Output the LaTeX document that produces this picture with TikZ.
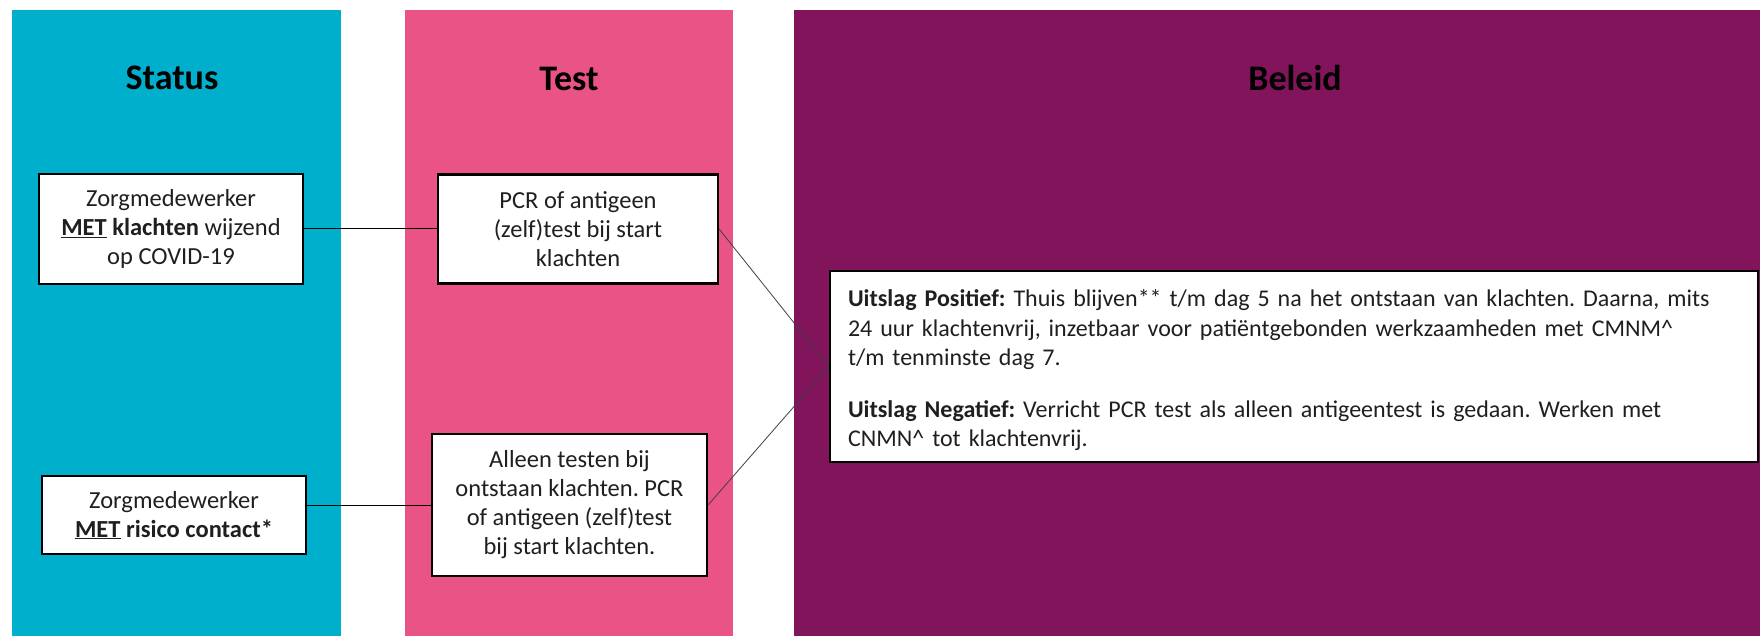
\documentclass[tikz,border=0pt]{standalone}
\usepackage{fontspec}
\setmainfont{Carlito}
\frenchspacing
\definecolor{statuscol}{RGB}{0,175,203}
\definecolor{testcol}{RGB}{233,83,133}
\definecolor{beleidcol}{RGB}{129,20,90}
\tikzset{
  coltitle/.style={font=\fontsize{36}{40}\selectfont\bfseries, text=black, inner sep=0pt},
  infobox/.style={draw=black, line width=2.2pt, fill=white, align=center, inner sep=0pt,
    font=\fontsize{24.5}{29}\selectfont, text=black!88},
  plaintext/.style={align=left, inner sep=0pt, text width=892pt,
    font=\fontsize{24}{29.5}\selectfont, text=black!88},
  link/.style={draw=black, line width=1pt},
  thinlink/.style={draw=black!75, line width=0.8pt}
}
\begin{document}
\begin{tikzpicture}[x=1pt,y=-1pt]
  \useasboundingbox (0,0) rectangle (1760,636);
  % column backgrounds
  \fill[statuscol] (12,10) rectangle (341,636);
  \fill[testcol] (405,10) rectangle (733,636);
  \fill[beleidcol] (794,10) rectangle (1760,636);
  % column headings
  \node[coltitle] (tStatus) at (172,78) {Status};
  \node[coltitle] (tTest) at (569,79) {Test};
  \node[coltitle] (tBeleid) at (1295,78) {Beleid};
  % status boxes
  \node[infobox, minimum width=264pt, minimum height=110pt] (klacht) at (171,229)
    {Zorgmedewerker\\\underline{\textbf{MET}} \textbf{klachten} wijzend\\op COVID-19};
  \node[infobox, minimum width=264pt, minimum height=78pt] (contact) at (174,515)
    {Zorgmedewerker\\\textbf{\underline{MET} risico contact*}};
  % test boxes
  \node[infobox, minimum width=280pt, minimum height=109pt] (pcr) at (578,229)
    {PCR of antigeen\\(zelf)test bij start\\klachten};
  \node[infobox, minimum width=275pt, minimum height=142pt] (alleen) at (569.5,505)
    {Alleen testen bij\\ontstaan klachten. PCR\\of antigeen (zelf)test\\bij start klachten.};
  % policy box and its text
  \node[infobox, minimum width=928pt, minimum height=191pt] (beleid) at (1294,366.5) {};
  \node[plaintext, yshift=-4pt] (beleidtext) at (beleid.center)
    {\textbf{Uitslag Positief:} Thuis blijven** t/m dag 5 na het ontstaan van klachten. Daarna, mits\\
     24 uur klachtenvrij, inzetbaar voor patiëntgebonden werkzaamheden met CMNM\^{}\\
     t/m tenminste dag 7.\\[22pt]
     \textbf{Uitslag Negatief:} Verricht PCR test als alleen antigeentest is gedaan. Werken met\\
     CNMN\^{} tot klachtenvrij.};
  % connectors
  \draw[link] (klacht.east) -- (pcr.west);
  \draw[link] (contact.east |- alleen.west) -- (alleen.west);
  \draw[thinlink] (pcr.east) -- (beleid.west);
  \draw[thinlink] (alleen.east) -- (beleid.west);
\end{tikzpicture}
\end{document}
